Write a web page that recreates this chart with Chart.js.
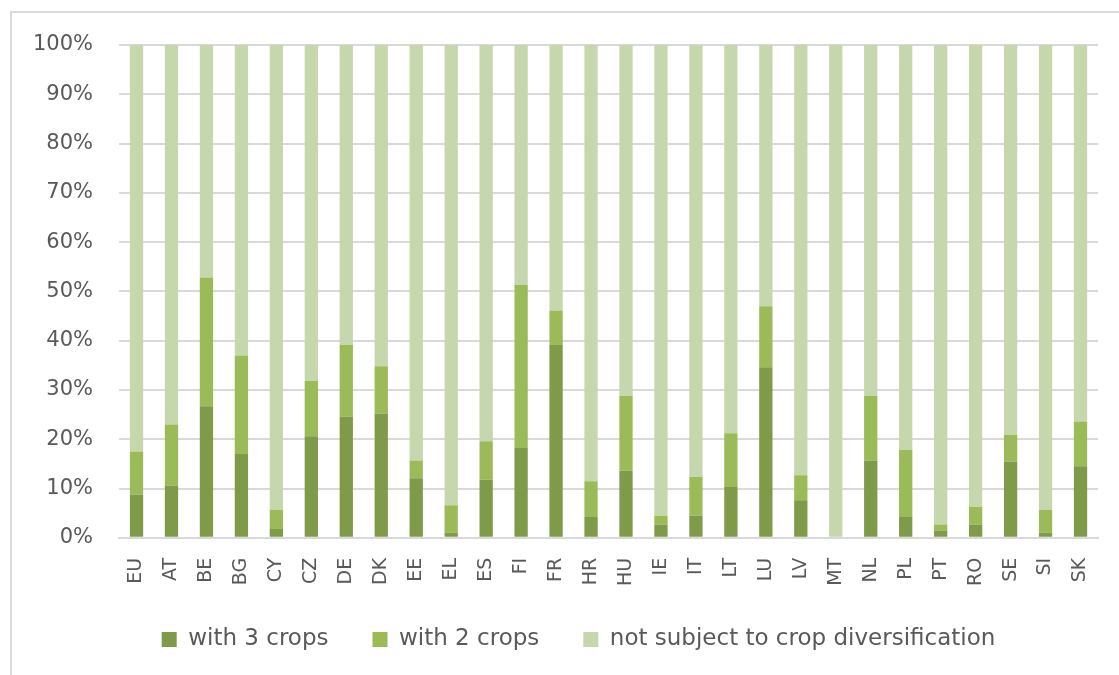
<!DOCTYPE html>
<html>
 <head>
  <title>Crop diversification by Member State</title>
  <meta charset="utf-8">
  <script src="https://cdn.jsdelivr.net/npm/chart.js"></script>
  <style>
    body { margin: 0; background: #ffffff; overflow: hidden; }
    #frame {
        position: absolute; left: 10px; top: 11px;
        width: 1200px; height: 800px;
        border: 2px solid #d9d9d9;
    }
    #wrap { position: absolute; left: 0; top: 0; width: 1119px; height: 675px; }
  </style>
 </head>
 <body>
  <div id="frame"></div>
  <div id="wrap"><canvas id="myChart" width="1119" height="675"></canvas></div>
  <script type="text/javascript">
    // member states (EU = total)
    var countries = ['EU','AT','BE','BG','CY','CZ','DE','DK','EE','EL','ES','FI','FR','HR',
                     'HU','IE','IT','LT','LU','LV','MT','NL','PL','PT','RO','SE','SI','SK'];

    // share of arable area, %
    var with3Crops = [8.8, 10.6, 26.7, 17.0, 1.8, 20.6, 24.6, 25.2, 12.1, 1.1, 11.8, 18.2, 39.1, 4.2,
                      13.6, 2.7, 4.5, 10.3, 34.6, 7.6, 0.0, 15.7, 4.2, 1.5, 2.7, 15.5, 1.1, 14.5];
    var with2Crops = [8.7, 12.4, 26.1, 20.0, 3.9, 11.2, 14.5, 9.6, 3.6, 5.5, 7.8, 33.1, 7.0, 7.3,
                      15.2, 1.8, 7.9, 10.9, 12.4, 5.1, 0.0, 13.1, 13.6, 1.2, 3.6, 5.4, 4.6, 9.1];
    var notSubject = [82.5, 77.0, 47.2, 63.0, 94.3, 68.2, 60.9, 65.2, 84.3, 93.4, 80.4, 48.7, 53.9, 88.5,
                      71.2, 95.5, 87.6, 78.8, 53.0, 87.3, 100.0, 71.2, 82.2, 97.3, 93.7, 79.1, 94.3, 76.4];

    var yTicks = [0, 10, 20, 30, 40, 50, 60, 70, 80, 90, 100];

    var textColor = '#595959';

    // nudge the legend box once the layout is done
    var legendOffset = {
        id: 'legendOffset',
        afterLayout: function (chart) {
            var lg = chart.legend;
            lg.left += 26; lg.right += 26;
            lg.top -= 14; lg.bottom -= 14;
        }
    };

    var ctx = document.getElementById('myChart').getContext('2d');

    var myChart = new Chart(ctx, {
        type: 'bar',
        data: {
            labels: countries,
            datasets: [
                { label: 'with 3 crops', data: with3Crops, backgroundColor: '#7f9a48' },
                { label: 'with 2 crops', data: with2Crops, backgroundColor: '#9bbb59' },
                { label: 'not subject to crop diversification', data: notSubject, backgroundColor: '#c6d7ad' }
            ]
        },
        plugins: [legendOffset],
        options: {
            responsive: false,
            animation: false,
            layout: { padding: { left: 7, top: 45, right: 21, bottom: 0 } },
            datasets: { bar: { barPercentage: 0.38, categoryPercentage: 1.0 } },
            plugins: {
                tooltip: { enabled: false },
                legend: {
                    position: 'bottom',
                    labels: {
                        color: textColor,
                        font: { family: 'DejaVu Sans', size: 23 },
                        boxWidth: 15,
                        boxHeight: 15,
                        padding: 44
                    }
                }
            },
            scales: {
                x: {
                    stacked: true,
                    grid: { display: false },
                    border: { color: '#d9d9d9', width: 2 },
                    ticks: {
                        color: textColor,
                        font: { family: 'DejaVu Sans', size: 19 },
                        minRotation: 90,
                        maxRotation: 90,
                        padding: 12
                    }
                },
                y: {
                    stacked: true,
                    min: 0,
                    max: 100,
                    afterBuildTicks: function (axis) {
                        axis.ticks = yTicks.map(function (v) { return { value: v }; });
                    },
                    grid: { color: '#d9d9d9', lineWidth: 2, drawTicks: false },
                    border: { display: false },
                    ticks: {
                        color: textColor,
                        font: { family: 'DejaVu Sans', size: 21 },
                        padding: 26,
                        callback: function (v) { return v + '%'; }
                    }
                }
            }
        }
    });
  </script>
 </body>
</html>
